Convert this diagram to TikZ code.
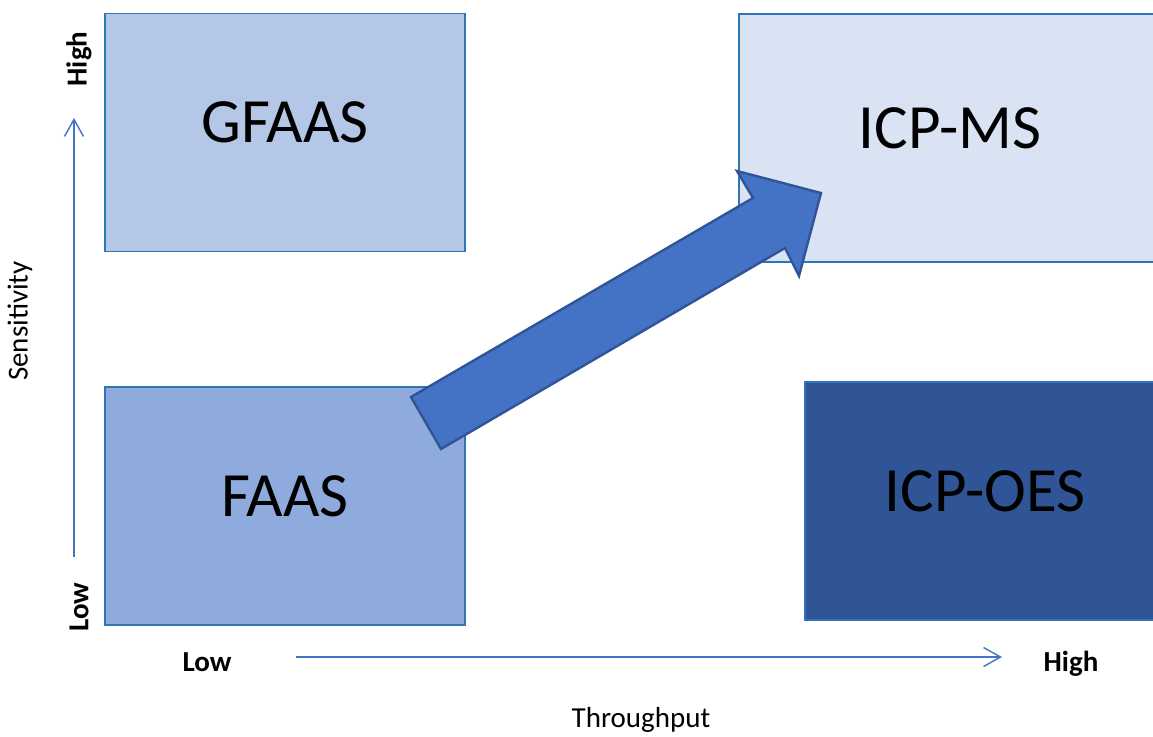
\documentclass[tikz,border=0pt]{standalone}
\usepackage{fontspec}
\setmainfont{Carlito}
\usetikzlibrary{arrows.meta}
\definecolor{gfaasfill}{HTML}{B4C7E7}
\definecolor{icpmsfill}{HTML}{DAE3F3}
\definecolor{faasfill}{HTML}{8FAADC}
\definecolor{icpoesfill}{HTML}{2F5597}
\definecolor{boxline}{HTML}{2E75B6}
\definecolor{axisblue}{HTML}{4472C4}
\definecolor{arrowline}{HTML}{2F5597}
\tikzset{
  method/.style={draw=boxline, line width=0.6pt, minimum width=180pt, minimum height=119pt,
    inner sep=0pt, text height=20pt, text depth=10pt, font=\fontsize{31.5}{36}\selectfont},
  axis/.style={draw=axisblue, line width=0.7pt, -{Straight Barb[length=8.5pt,width=9.5pt]}},
  tick/.style={font=\fontsize{14.5}{17}\selectfont\bfseries},
  axislabel/.style={font=\fontsize{14.5}{17}\selectfont},
  bigarrow/.style={fill=axisblue, draw=arrowline, line width=1.2pt, line join=miter}
}
\begin{document}
\begin{tikzpicture}[x=0.5pt,y=-0.5pt]
  \useasboundingbox (0,0) rectangle (1153,736);

  % the four methods
  \node[method, fill=gfaasfill] (gfaas) at (285,132.5) {GFAAS};
  \node[method, fill=icpmsfill, minimum width=211pt, minimum height=124pt] (icpms) at (950,138) {ICP-MS};
  \node[method, fill=faasfill] (faas) at (285,506) {FAAS};
  \node[method, fill=icpoesfill] (icpoes) at (985,501) {ICP-OES};

  % block arrow from FAAS to ICP-MS
  \draw[bigarrow] (411,397) -- (753,198) -- (737,171) -- (821,193)
    -- (799,276) -- (785,248) -- (441,449) -- cycle;

  % sensitivity axis
  \coordinate (ybot) at (74,557);
  \coordinate (ytop) at (74,118);
  \draw[axis] (ybot) -- (ytop);
  \node[tick, rotate=90] (yhigh) at (79,59) {High};
  \node[tick, rotate=90] (ylow) at (79,607) {Low};
  \node[axislabel, rotate=90] (ylab) at (20,321) {Sensitivity};

  % throughput axis
  \coordinate (xleft) at (296,657);
  \coordinate (xright) at (1002,657);
  \draw[axis] (xleft) -- (xright);
  \node[tick] (xlow) at (207,662) {Low};
  \node[tick] (xhigh) at (1071,664) {High};
  \node[axislabel] (xlab) at (641,720) {Throughput};
\end{tikzpicture}
\end{document}
